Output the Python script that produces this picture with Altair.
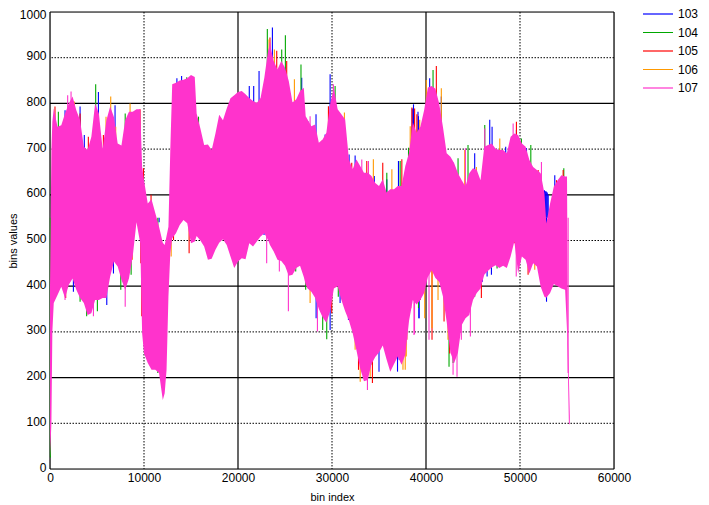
import altair as alt
import pandas as pd

env_x = [0,150,250,400,800,1200,1600,2000,2400,2800,3200,3600,4000,4400,4800,5200,5600,6000,6400,6800,7200,7600,8000,8400,8800,9200,9600,9800,10000,10400,10800,11200,11600,12000,12200,12400,12600,12800,13000,13400,13800,14200,14600,15000,15400,15600,16000,16400,16800,17200,17600,18000,18400,18800,19200,19600,20000,20400,20800,21200,21600,22000,22400,22800,23200,23400,23800,24200,24600,25000,25400,25800,26200,26600,27000,27200,27400,27800,28200,28600,29000,29400,29800,30200,30600,31000,31400,31800,32200,32600,33000,33400,33800,34200,34600,35000,35400,35800,36200,36600,37000,37400,37800,38200,38600,39000,39400,39800,40200,40600,41000,41400,41800,42200,42600,43000,43400,43800,44200,44600,45000,45400,45800,46200,46600,47000,47400,47800,48200,48600,49000,49400,49800,50200,50600,51000,51400,51800,52200,52600,52800,53200,53600,54000,54400,54800,55000,55100,55200,55300]
env_top = [400,700,760,789,749,752,778,800,815,785,763,705,698,727,800,778,700,763,793,770,712,708,763,782,782,787,787,661,632,581,590,560,530,495,490,510,530,700,842,845,850,852,855,862,858,778,745,709,710,698,734,775,763,789,811,818,825,827,820,812,805,801,812,856,915,929,893,874,893,878,849,802,809,827,834,772,765,750,754,714,721,736,798,834,787,776,765,677,656,677,663,648,648,641,626,619,634,605,612,612,619,619,663,692,758,736,749,785,835,838,832,800,749,691,683,669,647,632,618,647,658,654,632,705,709,712,701,698,698,691,727,734,731,712,705,676,661,654,647,603,537,581,618,632,643,640,640,280,200,115]
env_low = [25,100,300,363,381,399,374,403,417,392,374,363,337,341,370,370,374,374,421,454,443,414,392,417,465,540,494,297,253,232,217,217,210,151,166,217,377,472,505,516,534,545,538,494,498,510,500,487,458,460,480,495,503,490,465,440,454,461,459,494,487,498,509,516,501,490,476,458,455,445,423,425,440,445,420,403,395,388,375,350,332,320,345,395,400,370,345,325,297,260,220,192,195,230,245,255,270,240,213,230,246,228,250,325,370,360,370,385,420,435,418,410,378,322,255,232,255,315,330,337,370,385,395,425,434,441,446,440,445,440,465,498,428,465,458,428,450,443,399,377,375,385,405,400,395,392,304,210,100,97]

hi_103_x = [1600,3200,3650,5150,6920,9050,11610,13500,14000,21200,21670,22240,23660,26780,27500,28300,29270,29800,31820,32460,34500,35830,37070,38540,38670,39150,39200,40390,41630,42900,45180,46780,47030,48480,49620,50690,52600,52700,52800,52900,53000,53700]
hi_103_v = [785,793,731,825,796,775,540,855,860,838,838,871,966,856,760,776,732,864,688,686,641,634,674,789,798,782,772,855,815,670,691,764,749,705,742,702,610,608,607,605,600,643]
hi_104_x = [890,2300,4860,8000,14550,15800,23120,24650,25040,26700,27310,30330,34950,35830,37250,38140,40750,43410,44470,46250,50150,51150,54660]
hi_104_v = [782,807,842,778,857,771,963,918,949,885,740,838,619,648,674,703,873,680,709,753,723,709,658]
hi_105_x = [530,3200,4080,5680,9580,9940,10750,23400,24120,25180,29620,31220,32100,33700,35400,37430,38500,38790,39030,41100,42340,46960,49620,51930,53880,54590]
hi_105_v = [793,778,727,731,787,658,600,944,915,893,794,761,670,674,670,678,791,789,776,882,661,709,760,654,632,654]
hi_106_x = [2590,3730,5960,6460,6990,8520,23300,23870,26000,28910,31320,34400,36370,38320,39330,40030,41630,44120,45360,47850,53880]
hi_106_v = [804,691,771,815,749,800,940,918,853,718,780,678,656,750,764,851,833,698,661,723,618]
hi_107_x = [1880,2240,23400,27670,30150,33170,33880,44190,46250,49270,52280]
hi_107_v = [818,826,933,772,842,677,674,702,745,756,672]

lo_103_x = [2490,4970,6040,6750,22770,28310,29800,30860,31750,35000,36970,37150,39250,39260,44120,46000,46500,46960,51150,52820]
lo_103_v = [388,370,359,428,512,330,304,363,326,213,213,239,330,330,359,410,421,425,472,366]
lo_104_x = [40,3200,3900,5040,7530,8630,11470,26140,27200,29010,29440,30670,34270,39200,42450,42880,43940,44540,45180,47560]
lo_104_v = [25,366,334,345,392,425,210,432,392,304,284,377,228,352,224,232,326,363,377,439]
lo_105_x = [1670,2840,3900,5400,9660,9760,13140,14800,25180,29970,31860,32820,34300,36720,37960,38370,39380,39400,40640,41920,42520,45890,49440,50860]
lo_105_v = [374,414,348,414,450,334,501,472,450,341,330,217,188,257,283,352,370,377,283,323,253,374,494,425]
lo_106_x = [1600,2130,3550,3900,6040,6750,8770,12890,14090,23760,27670,27850,30330,32460,33000,34060,37550,37790,37900,39860,40640,41280,42340,44300,51570]
lo_106_v = [403,428,396,370,403,461,458,465,552,501,363,421,428,261,191,202,217,217,246,330,308,370,283,334,436]
lo_107_x = [1600,4620,8000,23050,24400,25360,28450,33770,35480,37310,38720,38780,40320,42880,43300,43760,44720,49600,55120]
lo_107_v = [370,334,355,450,432,345,301,173,290,242,293,295,283,206,202,283,290,421,210]

series_names = ["103", "104", "105", "106", "107"]
series_colors = ["#0000ff", "#00a800", "#ff0000", "#ff9900", "#ff33cc"]
spike_anchor = 550

solid_x = [0, 20000, 40000, 60000]
dotted_x = [10000, 30000, 50000]
solid_y = [0, 200, 400, 600, 800, 1000]
dotted_y = [100, 300, 500, 700, 900]
x_ticks = [0, 10000, 20000, 30000, 40000, 50000, 60000]
y_ticks = [0, 100, 200, 300, 400, 500, 600, 700, 800, 900, 1000]

spike_sets = [
    ("103", hi_103_x, hi_103_v, lo_103_x, lo_103_v),
    ("104", hi_104_x, hi_104_v, lo_104_x, lo_104_v),
    ("105", hi_105_x, hi_105_v, lo_105_x, lo_105_v),
    ("106", hi_106_x, hi_106_v, lo_106_x, lo_106_v),
    ("107", hi_107_x, hi_107_v, lo_107_x, lo_107_v),
]
rows = []
for name, hx, hv, lx, lv in spike_sets:
    for a, b in list(zip(hx, hv)) + list(zip(lx, lv)):
        rows.append({"series": name, "bin": a, "value": b, "anchor": spike_anchor})
spikes = pd.DataFrame(rows)
envelope = pd.DataFrame({"bin": env_x, "top": env_top, "low": env_low})

font = "Liberation Sans"
xs = alt.Scale(domain=[0, 60000], nice=False, zero=False)
ys = alt.Scale(domain=[0, 1000], nice=False, zero=False)

x_axis = alt.Axis(values=x_ticks, grid=False, domain=False, ticks=False, labelPadding=3,
                  format="d", labelFont=font, labelFontSize=12, labelColor="black", title="bin index",
                  titleFont=font, titleFontSize=11, titleFontWeight="normal", titleColor="black",
                  titlePadding=8, labelFlush=False, labelOverlap=False)
y_axis = alt.Axis(values=y_ticks, grid=False, domain=False, ticks=False, labelPadding=4,
                  format="d", labelFont=font, labelFontSize=12, labelColor="black", title="bins values",
                  titleFont=font, titleFontSize=11, titleFontWeight="normal", titleColor="black",
                  titlePadding=1, labelOverlap=False,
                  labelOffset={"condition": {"test": "datum.value == 1000", "value": 2}, "value": -2})


def vrule(vals, **kw):
    return alt.Chart(pd.DataFrame({"v": vals})).mark_rule(color="black", **kw).encode(
        x=alt.X("v:Q", scale=xs, axis=x_axis))


def hrule(vals, **kw):
    return alt.Chart(pd.DataFrame({"v": vals})).mark_rule(color="black", **kw).encode(
        y=alt.Y("v:Q", scale=ys, axis=y_axis))


dash = [1.5, 1.5]
spike_layer = alt.Chart(spikes).mark_rule(strokeWidth=1.1).encode(
    x=alt.X("bin:Q", scale=xs, axis=x_axis),
    y=alt.Y("value:Q", scale=ys, axis=y_axis),
    y2="anchor:Q",
    color=alt.Color("series:N",
                    scale=alt.Scale(domain=series_names, range=series_colors),
                    legend=alt.Legend(title=None, orient="none", legendX=592, legendY=-4,
                                      symbolType="stroke", symbolSize=900, symbolStrokeWidth=1.2,
                                      clipHeight=12, rowPadding=6.5, labelOffset=4,
                                      labelFont=font, labelFontSize=12, labelColor="black", padding=0)),
)
area_layer = alt.Chart(envelope).mark_area(color=series_colors[4], opacity=1).encode(
    x=alt.X("bin:Q", scale=xs, axis=x_axis),
    y=alt.Y("top:Q", scale=ys, axis=y_axis),
    y2="low:Q",
)

chart = alt.layer(
    vrule(dotted_x, strokeDash=dash, strokeWidth=1),
    hrule(dotted_y, strokeDash=dash, strokeWidth=1),
    vrule(solid_x, strokeWidth=1.2),
    hrule(solid_y, strokeWidth=1.2),
    spike_layer,
    area_layer,
).properties(
    width=564, height=457,
    autosize=alt.AutoSizeParams(type="none"),
    padding={"left": 42, "top": 4, "right": 87, "bottom": 33},
).configure_view(stroke=None).configure(background="white")

chart.save("out.html", embed_options={"renderer": "svg", "actions": False})
